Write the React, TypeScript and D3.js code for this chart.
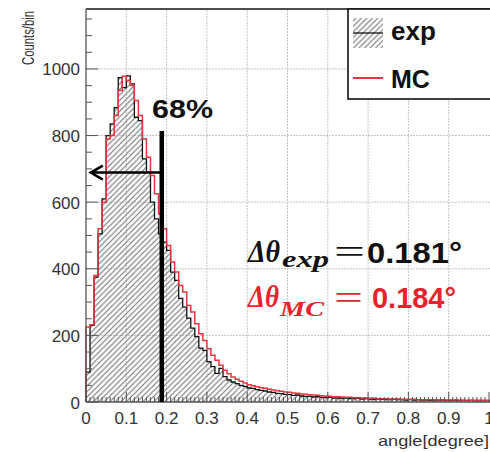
import React from 'react';
import * as d3 from 'd3';

const BIN_WIDTH = 0.01;

const EXP_COUNTS = [
  90, 230, 375, 505, 610, 800, 835, 884, 974, 944,
  979, 955, 855, 845, 730, 690, 600, 550, 505, 480,
  455, 390, 365, 311, 285, 252, 222, 196, 162, 155,
  121, 106, 86, 101, 76, 66, 60, 55, 50, 47,
  42, 41, 37, 35, 33, 30, 29, 26, 25, 23,
  22, 20, 21, 18, 17, 17, 15, 16, 14, 13,
  14, 12, 12, 11, 12, 10, 10, 11, 9, 10,
  9, 8, 9, 8, 8, 7, 8, 7, 7, 6,
  7, 6, 7, 6, 6, 5, 6, 5, 6, 5,
  5, 5, 4, 5, 4, 5, 4, 4, 4, 4,
];

const MC_COUNTS = [
  225, 232, 380, 520, 600, 790, 800, 860, 935, 978,
  965, 950, 905, 860, 790, 735, 680, 625, 565, 520,
  470, 420, 390, 350, 330, 290, 270, 235, 205, 185,
  160, 140, 125, 110, 95, 85, 75, 68, 62, 57,
  52, 49, 46, 43, 41, 38, 36, 34, 32, 30,
  29, 27, 26, 24, 23, 22, 21, 20, 19, 18,
  17, 16, 16, 15, 14, 14, 13, 13, 12, 12,
  11, 11, 10, 10, 10, 9, 9, 9, 8, 8,
  8, 8, 7, 7, 7, 7, 7, 6, 6, 6,
  6, 6, 6, 5, 5, 5, 5, 5, 5, 5,
];

const X_TICK_VALUES = [0, 0.1, 0.2, 0.3, 0.4, 0.5, 0.6, 0.7, 0.8, 0.9, 1];
const X_TICK_LABELS = ['0', '0.1', '0.2', '0.3', '0.4', '0.5', '0.6', '0.7', '0.8', '0.9', '1'];
const Y_TICK_VALUES = [0, 200, 400, 600, 800, 1000];
const Y_TICK_LABELS = ['0', '200', '400', '600', '800', '1000'];

const CUT_ANGLE = 0.188;
const CUT_LINE_TOP = 814;
const ARROW_LEVEL = 689;
const ARROW_END = 0.012;

const SANS = 'Liberation Sans, Arial, Helvetica, sans-serif';
const SERIF = 'Liberation Serif, DejaVu Serif, serif';
const RED = '#e8232c';
const HIST_RED = '#e4363e';

export default function App() {
  const W = 490, H = 452;
  const x = d3.scaleLinear().domain([0, 1]).range([86, 489]);
  const y = d3.scaleLinear().domain([0, 1180]).range([402, 9]);

  const outlinePts = (vals: number[]): [number, number][] => {
    const pts: [number, number][] = [[0, 0]];
    vals.forEach((v, i) => pts.push([i * BIN_WIDTH, v]));
    pts.push([vals.length * BIN_WIDTH, 0]);
    return pts;
  };
  const line = d3.line<[number, number]>().x(d => x(d[0])).y(d => y(d[1])).curve(d3.curveStepAfter);
  const areaPts: [number, number][] = EXP_COUNTS.map((v, i) => [i * BIN_WIDTH, v] as [number, number]);
  areaPts.push([EXP_COUNTS.length * BIN_WIDTH, EXP_COUNTS[EXP_COUNTS.length - 1]]);
  const area = d3.area<[number, number]>().x(d => x(d[0])).y0(y(0)).y1(d => y(d[1])).curve(d3.curveStepAfter);

  const xMinor = d3.range(0, 101).map(i => i / 100);
  const yMinor = d3.range(0, 1180, 50);

  const ax = x(ARROW_END), ay = y(ARROW_LEVEL);

  return (
    <svg width={W} height={H} style={{ position: 'absolute', left: 0, top: 0, background: '#fff' }}>
      <defs>
        <pattern id="hatch" patternUnits="userSpaceOnUse" width="5.5" height="5.5">
          <path d="M-1,1 l2,-2 M0,5.5 l5.5,-5.5 M4.5,6.5 l2,-2" stroke="#6a6a6a" strokeWidth="1" />
        </pattern>
      </defs>
      <rect x={0} y={0} width={W} height={H} fill="#fff" />

      {/* grid */}
      {X_TICK_VALUES.slice(1, -1).map(v => (
        <line key={'gx' + v} x1={x(v)} x2={x(v)} y1={y(0)} y2={y(1180)} stroke="#c4c4c4" strokeWidth={1} strokeDasharray="2 1" />
      ))}
      {Y_TICK_VALUES.slice(1).map(v => (
        <line key={'gy' + v} x1={x(0)} x2={W} y1={y(v)} y2={y(v)} stroke="#c4c4c4" strokeWidth={1} strokeDasharray="2 1" />
      ))}

      {/* histograms */}
      <path d={area(areaPts) || ''} fill="url(#hatch)" />
      <path d={line(outlinePts(EXP_COUNTS)) || ''} fill="none" stroke="#111" strokeWidth={1.3} />
      <path d={line(outlinePts(MC_COUNTS)) || ''} fill="none" stroke={HIST_RED} strokeWidth={1.5} />

      {/* frame & axes */}
      <line x1={x(0)} x2={W + 2} y1={y(1180)} y2={y(1180)} stroke="#111" strokeWidth={1.6} />
      <line x1={x(0)} x2={x(0)} y1={y(0)} y2={y(1180)} stroke="#555" strokeWidth={1.3} />
      <line x1={x(0)} x2={W + 2} y1={y(0)} y2={y(0)} stroke="#555" strokeWidth={1.3} />
      {xMinor.map(v => {
        const major = Math.abs(v * 10 - Math.round(v * 10)) < 1e-6;
        return <line key={'tx' + v} x1={x(v)} x2={x(v)} y1={y(0)} y2={y(0) - (major ? 10 : 5)} stroke="#555" strokeWidth={1} />;
      })}
      {yMinor.map(v => (
        <line key={'ty' + v} x1={x(0)} x2={x(0) + (v % 200 === 0 ? 12 : 6)} y1={y(v)} y2={y(v)} stroke="#555" strokeWidth={1} />
      ))}

      {/* tick labels */}
      {X_TICK_VALUES.map((v, i) => (
        <text key={'lx' + v} x={x(v)} y={424} textAnchor="middle" fontFamily={SANS} fontSize={17} fill="#333">{X_TICK_LABELS[i]}</text>
      ))}
      {Y_TICK_VALUES.map((v, i) => (
        <text key={'ly' + v} x={80} y={y(v) + 6.5} textAnchor="end" fontFamily={SANS} fontSize={17} fill="#333">{Y_TICK_LABELS[i]}</text>
      ))}
      <text transform="translate(34,11) rotate(-90)" textAnchor="end" fontFamily={SANS} fontSize={16} fill="#333" textLength={54} lengthAdjust="spacingAndGlyphs">Counts/bin</text>
      <text x={378} y={446} fontFamily={SANS} fontSize={15} fill="#333" textLength={111} lengthAdjust="spacingAndGlyphs">angle[degree]</text>

      {/* 68% cut */}
      <line x1={x(CUT_ANGLE)} x2={x(CUT_ANGLE)} y1={y(0)} y2={y(CUT_LINE_TOP)} stroke="#000" strokeWidth={4.5} />
      <line x1={x(CUT_ANGLE)} x2={ax + 1} y1={ay} y2={ay} stroke="#000" strokeWidth={2.6} />
      <path d={`M${ax + 12},${ay - 7} L${ax},${ay} L${ax + 12},${ay + 7}`} fill="none" stroke="#000" strokeWidth={2.6} strokeLinejoin="miter" />
      <text x={152} y={118} fontFamily={SANS} fontWeight="bold" fontSize={26} fill="#111" textLength={61} lengthAdjust="spacingAndGlyphs">68%</text>

      {/* legend */}
      <rect x={348} y={y(1180)} width={W} height={90} fill="#fff" stroke="#111" strokeWidth={1.6} />
      <rect x={353} y={18} width={30} height={30} fill="url(#hatch)" />
      <line x1={353} x2={383} y1={33} y2={33} stroke="#111" strokeWidth={1.3} />
      <text x={391} y={40} fontFamily={SANS} fontWeight="bold" fontSize={26} fill="#111">exp</text>
      <line x1={353} x2={383} y1={78} y2={78} stroke={HIST_RED} strokeWidth={2} />
      <text x={391} y={88} fontFamily={SANS} fontWeight="bold" fontSize={25} fill="#111">MC</text>

      {/* resolution annotations */}
      <text x={248} y={262} fontFamily={SERIF} fontWeight="bold" fontStyle="italic" fontSize={32} fill="#111" textLength={32} lengthAdjust="spacingAndGlyphs">Δθ</text>
      <text x={282} y={267} fontFamily={SERIF} fontWeight="bold" fontStyle="italic" fontSize={23} fill="#111" textLength={47} lengthAdjust="spacingAndGlyphs">exp</text>
      <text x={334} y={263} fontFamily={SERIF} fontSize={34} fill="#111" textLength={31} lengthAdjust="spacingAndGlyphs">=</text>
      <text x={367} y={262.5} fontFamily={SANS} fontWeight="bold" fontSize={30} fill="#111" textLength={95} lengthAdjust="spacingAndGlyphs">0.181°</text>

      <text x={248} y={307} fontFamily={SERIF} fontWeight="bold" fontStyle="italic" fontSize={32} fill={RED} textLength={31} lengthAdjust="spacingAndGlyphs">Δθ</text>
      <text x={280} y={316} fontFamily={SERIF} fontWeight="bold" fontStyle="italic" fontSize={21} fill={RED} textLength={44} lengthAdjust="spacingAndGlyphs">MC</text>
      <text x={334} y={309} fontFamily={SERIF} fontSize={34} fill={RED} textLength={29} lengthAdjust="spacingAndGlyphs">=</text>
      <text x={372} y={307.5} fontFamily={SANS} fontWeight="bold" fontSize={30} fill={RED} textLength={84} lengthAdjust="spacingAndGlyphs">0.184°</text>
    </svg>
  );
}
